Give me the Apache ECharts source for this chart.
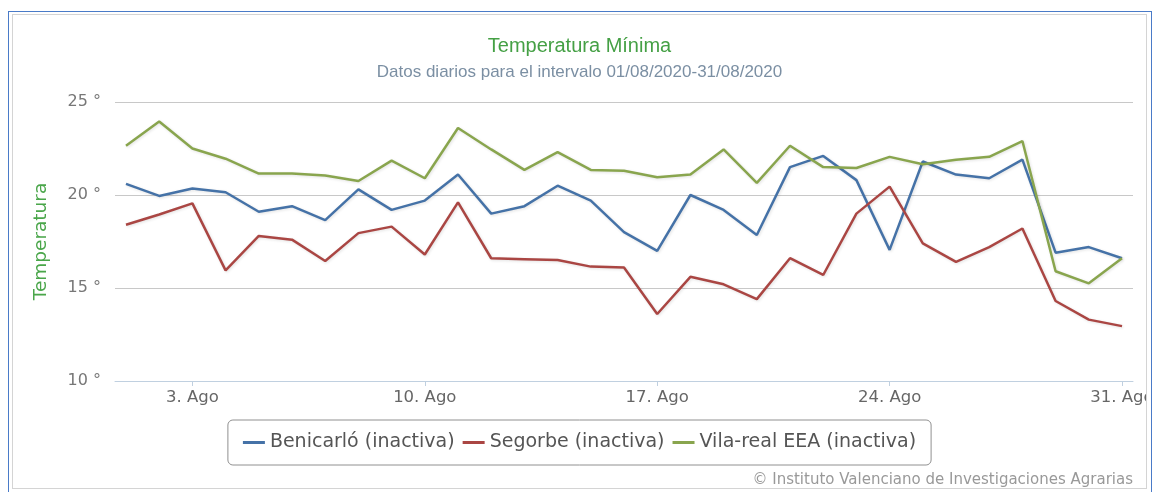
<!DOCTYPE html>
<html>
<head>
<meta charset="utf-8">
<title>Temperatura Mínima</title>
<script src="https://cdn.jsdelivr.net/npm/echarts@6/dist/echarts.min.js"></script>
<style>
	html, body { margin: 0; padding: 0; background: #fff; }
	#frame { position: absolute; left: 8px; top: 11px; width: 1144px; height: 500px; border: 1px solid #4a7bc8; box-sizing: border-box; }
	#clip { position: absolute; left: 12px; top: 14px; width: 1135px; height: 475px; border: 1px solid #d4d4d4; box-sizing: border-box; overflow: hidden; }
	#chart { position: absolute; left: -13px; top: -15px; width: 1159px; height: 492px; }
</style>
</head>
<body>
<div id="frame"></div>
<div id="clip"><div id="chart"></div></div>
<script>
	// dias de agosto 2020
	var days = [1, 2, 3, 4, 5, 6, 7, 8, 9, 10, 11, 12, 13, 14, 15, 16, 17, 18, 19, 20, 21, 22, 23, 24, 25, 26, 27, 28, 29, 30, 31]
	var xTickDays = [3, 10, 17, 24, 31]
	var yTicks = [10, 15, 20, 25]

	var seriesNames = ['Benicarló (inactiva)', 'Segorbe (inactiva)', 'Vila-real EEA (inactiva)']
	var benicarlo = [20.6, 19.95, 20.35, 20.15, 19.1, 19.4, 18.65, 20.3, 19.2, 19.7, 21.1, 19.0, 19.4, 20.5, 19.7, 18.0, 17.0, 20.0, 19.2, 17.85, 21.5, 22.1, 20.8, 17.05, 21.8, 21.1, 20.9, 21.9, 16.9, 17.2, 16.6]
	var segorbe = [18.4, 18.95, 19.55, 15.95, 17.8, 17.6, 16.45, 17.95, 18.3, 16.8, 19.6, 16.6, 16.55, 16.5, 16.15, 16.1, 13.6, 15.6, 15.2, 14.4, 16.6, 15.7, 19.0, 20.45, 17.4, 16.4, 17.2, 18.2, 14.3, 13.3, 12.95]
	var vilareal = [22.65, 23.95, 22.5, 21.95, 21.15, 21.15, 21.05, 20.75, 21.85, 20.9, 23.6, 22.45, 21.35, 22.3, 21.35, 21.3, 20.95, 21.1, 22.45, 20.65, 22.65, 21.5, 21.45, 22.05, 21.65, 21.9, 22.05, 22.9, 15.9, 15.25, 16.6]

	var colors = ['#4572a7', '#aa4643', '#89a54e']

	function pairs(values) {
		return values.map(function (v, i) {
			return [days[i], v]
		})
	}

	var chart = echarts.init(document.getElementById('chart'))

	var seriesData = [benicarlo, segorbe, vilareal].map(function (values, index) {
		return {
			name: seriesNames[index],
			type: 'line',
			symbol: 'none',
			smooth: false,
			color: colors[index],
			lineStyle: {
				width: 2.5,
				color: colors[index],
				shadowColor: 'rgba(0, 0, 0, 0.12)',
				shadowBlur: 3,
				shadowOffsetX: 1,
				shadowOffsetY: 1
			},
			data: pairs(values)
		}
	})

	chart.setOption({
		backgroundColor: '#fff',
		animation: false,
		title: [{
			text: 'Temperatura Mínima',
			left: 'center',
			top: 36,
			padding: 0,
			textStyle: {
				fontFamily: 'Liberation Sans',
				fontWeight: 'normal',
				fontSize: 20,
				lineHeight: 20,
				color: '#45a045'
			}
		}, {
			text: 'Datos diarios para el intervalo 01/08/2020-31/08/2020',
			left: 'center',
			top: 64,
			padding: 0,
			textStyle: {
				fontFamily: 'Liberation Sans',
				fontWeight: 'normal',
				fontSize: 17,
				lineHeight: 17,
				color: '#7b8fa3'
			}
		}, {
			text: '© Instituto Valenciano de Investigaciones Agrarias',
			right: 26,
			top: 473,
			padding: 0,
			textStyle: {
				fontFamily: 'DejaVu Sans',
				fontWeight: 'normal',
				fontSize: 15,
				lineHeight: 15,
				color: '#999'
			}
		}],
		legend: {
			left: 'center',
			top: 420,
			padding: [13, 15],
			itemGap: 8,
			itemWidth: 22,
			itemHeight: 3,
			icon: 'rect',
			borderColor: '#909090',
			borderWidth: 1,
			borderRadius: 5,
			data: seriesNames,
			textStyle: {
				fontFamily: 'DejaVu Sans',
				fontSize: 19,
				color: '#555'
			}
		},
		grid: {
			left: 115,
			right: 26,
			top: 102,
			bottom: 111,
			containLabel: false
		},
		xAxis: {
			type: 'value',
			min: 0.669,
			max: 31.331,
			splitLine: { show: false },
			axisLine: {
				show: true,
				lineStyle: { color: '#c0d0e0', width: 1 }
			},
			axisTick: {
				show: true,
				length: 5,
				customValues: xTickDays,
				lineStyle: { color: '#c0d0e0' }
			},
			axisLabel: {
				customValues: xTickDays,
				margin: 8,
				fontFamily: 'DejaVu Sans',
				fontSize: 16.5,
				color: '#666',
				formatter: function (v) {
					return v + '. Ago'
				}
			}
		},
		yAxis: {
			type: 'value',
			min: yTicks[0],
			max: yTicks[yTicks.length - 1],
			interval: 5,
			name: 'Temperatura',
			nameLocation: 'middle',
			nameRotate: 90,
			nameGap: 64,
			nameTextStyle: {
				fontFamily: 'DejaVu Sans',
				fontSize: 18.5,
				color: '#4aa64a'
			},
			axisLine: { show: false },
			axisTick: { show: false },
			axisLabel: {
				margin: 14,
				fontFamily: 'DejaVu Sans',
				fontSize: 16,
				color: '#777',
				formatter: function (v) {
					return v + ' °'
				}
			},
			splitLine: {
				lineStyle: { color: '#c8c8c8', width: 1 }
			}
		},
		series: seriesData
	})
</script>
</body>
</html>
